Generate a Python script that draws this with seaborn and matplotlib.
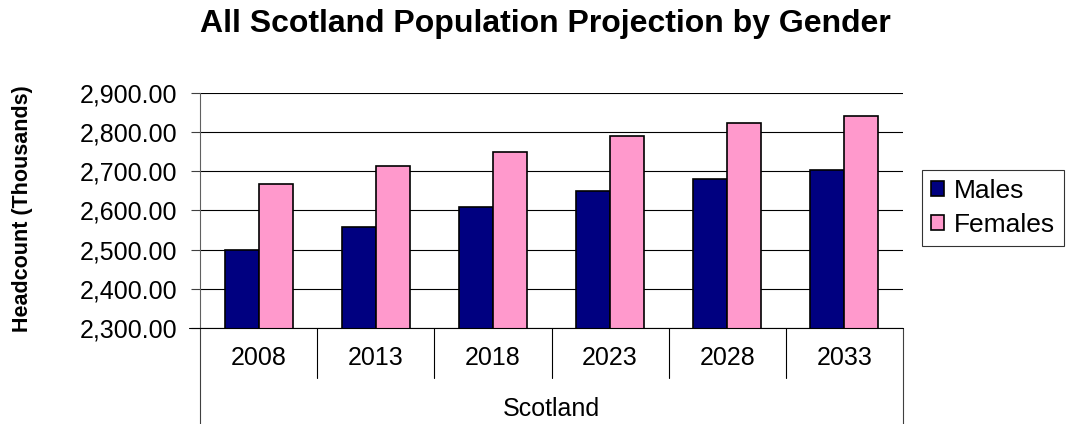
import matplotlib
matplotlib.use("Agg")
import matplotlib.pyplot as plt
import matplotlib.transforms as mtransforms
from matplotlib.ticker import FuncFormatter
import seaborn as sns
import pandas as pd

# data
YEARS = ["2008", "2013", "2018", "2023", "2028", "2033"]
MALES = [2500, 2559, 2608, 2649, 2681, 2704]
FEMALES = [2667, 2713, 2749, 2790, 2823, 2842]
GENDERS = ["Males", "Females"]
COLORS = {"Males": "#000080", "Females": "#FF99CC"}

W, H = 1091, 424

data = pd.DataFrame({
    "Year": YEARS * 2,
    "Gender": [GENDERS[0]] * len(YEARS) + [GENDERS[1]] * len(YEARS),
    "Headcount": MALES + FEMALES,
})

sns.set_theme(style="white")
plt.rcParams["font.family"] = ["Liberation Sans", "DejaVu Sans"]
plt.rcParams["text.color"] = "black"

fig = plt.figure(figsize=(W / 100, H / 100), dpi=100)
ax = fig.add_axes([200 / W, 1 - 328 / H, 703 / W, 235 / H])

sns.barplot(
    data=data, x="Year", y="Headcount", hue="Gender", palette=COLORS,
    width=0.58, saturation=1, edgecolor="black", linewidth=1.2,
    errorbar=None, ax=ax, zorder=3,
)

ax.set_xlim(-0.5, len(YEARS) - 0.5)
ax.set_ylim(2300, 2900)
ax.set_yticks(range(2300, 3000, 100))
ax.yaxis.set_major_formatter(FuncFormatter(lambda v, p: f"{v:,.2f}"))
ax.yaxis.grid(True, color="black", linewidth=0.8)
ax.set_axisbelow(True)

for side in ["top", "right", "bottom"]:
    ax.spines[side].set_visible(False)
ax.spines["left"].set_color("#606060")
ax.spines["left"].set_linewidth(0.8)

ax.tick_params(axis="y", left=True, length=6.5, width=0.8, color="#404040",
               pad=10, labelsize=18, labelcolor="black")
ax.tick_params(axis="x", bottom=False, length=0, pad=13, labelsize=18, labelcolor="black")
ax.set_xlabel("")
ax.set_ylabel("Headcount (Thousands)", fontsize=15.5, fontweight="bold", color="black")
ax.yaxis.set_label_coords(-0.2375, 0.51)

# category axis: baseline, separators and outer box
trans = mtransforms.blended_transform_factory(ax.transData, ax.transAxes)
ax.plot([-0.5 - 11 / 117, len(YEARS) - 0.5], [0, 0], transform=trans,
        color="black", lw=0.8, clip_on=False, zorder=4)
for i in range(1, len(YEARS)):
    ax.plot([i - 0.5, i - 0.5], [0, -0.213], transform=trans,
            color="black", lw=0.8, clip_on=False)
for xb in [-0.5, len(YEARS) - 0.5]:
    ax.plot([xb, xb], [0, -0.42], transform=trans,
            color="#404040", lw=0.8, clip_on=False)
ax.text(0.5, -0.374, "Scotland", transform=ax.transAxes, ha="center",
        va="baseline", fontsize=18, color="black")

fig.text(545 / W, 1 - 32 / H, "All Scotland Population Projection by Gender",
         ha="center", va="baseline", fontsize=23, fontweight="bold", color="black")

handles, labels = ax.get_legend_handles_labels()
leg = ax.legend(
    handles, labels, loc="upper left", bbox_to_anchor=(922 / W, 1 - 170 / H),
    bbox_transform=fig.transFigure, frameon=True, fancybox=False,
    edgecolor="black", fontsize=19, handlelength=0.48, handleheight=0.48,
    handletextpad=0.4, borderpad=0.34, labelspacing=0.38, borderaxespad=0,
    labelcolor="black",
)
leg.get_frame().set_linewidth(0.8)

fig.savefig("out.png", dpi=100)
